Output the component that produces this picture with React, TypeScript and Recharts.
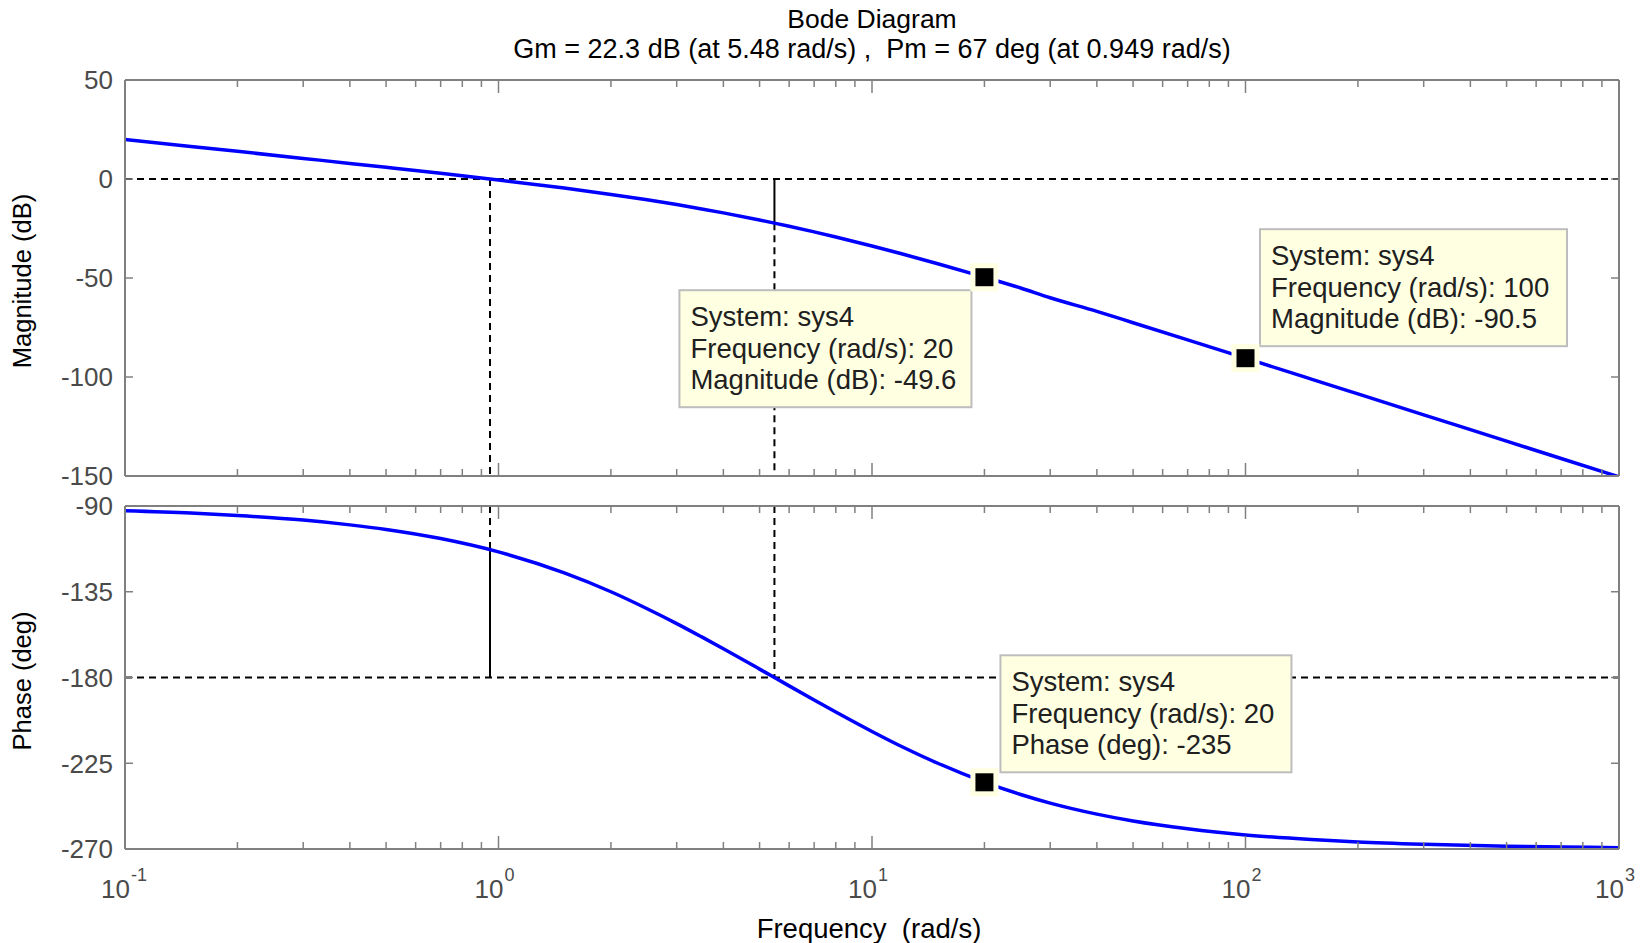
import React from 'react';
import { LineChart, Line, XAxis, YAxis, ReferenceLine, ReferenceDot } from 'recharts';

// frequency grid (rad/s) and the values
const freq = [0.1, 0.15, 0.2, 0.3, 0.4, 0.5, 0.7, 1, 1.5, 2, 2.5, 3, 3.5, 4, 5, 5.48, 6, 7, 8, 10, 12, 15, 20, 25, 30, 40, 50, 70, 100, 150, 200, 300, 500, 700, 1000];
const magnitudeDb = [19.99, 16.47, 13.96, 10.41, 7.88, 5.89, 2.85, -0.5, -4.59, -7.79, -10.51, -12.93, -15.11, -17.12, -20.72, -22.29, -23.89, -26.72, -29.3, -33.84, -37.75, -42.79, -49.58, -55.04, -59.99, -66.86, -72.58, -81.26, -90.5, -101.04, -108.53, -119.09, -132.4, -141.16, -150.46];
const phaseDeg = [-92.5, -93.7, -95.0, -97.4, -99.9, -102.3, -107.1, -114.1, -125.1, -135.0, -143.9, -151.7, -158.7, -164.9, -175.6, -180.0, -184.4, -191.8, -198.1, -208.3, -216.2, -225.0, -234.9, -241.4, -245.9, -251.7, -255.3, -259.4, -262.6, -265.0, -266.3, -267.5, -268.5, -268.9, -269.3];

const decades = [0.1, 1, 10, 100, 1000];
const decadeExp = ['-1', '0', '1', '2', '3'];
const minorSteps = [2, 3, 4, 5, 6, 7, 8, 9];
const magTicks = [50, 0, -50, -100, -150];
const phaseTicks = [-90, -135, -180, -225, -270];

// stability margins
const gmFreq = 5.48;
const gmDb = -22.3;
const pmFreq = 0.949;
const pmPhase = -113;

// data tips
const tipFreq = [20, 100, 20];
const tipValue = [-49.6, -90.5, -235];
const tipLabel = ['Magnitude (dB)', 'Magnitude (dB)', 'Phase (deg)'];

const rows = freq.map((w, i) => ({ w, mag: magnitudeDb[i], phase: phaseDeg[i] }));
const xTicks = decades.flatMap((d, i) => (i < decades.length - 1 ? [d, ...minorSteps.map((m) => d * m)] : [d]));

const AXIS = '#808080';
const TICK_TXT = '#4a4a4a';
const FONT = '"Liberation Sans", Arial, Helvetica, sans-serif';
const DASH = '7 5';

function LeftTick({ x, y, payload }: any) {
  return (
    <g>
      <line x1={x} x2={x + 8} y1={y} y2={y} stroke={AXIS} strokeWidth={1.5} />
      <text x={x - 12} y={y} dy="0.36em" textAnchor="end" fontSize={26} fontFamily={FONT} fill={TICK_TXT}>
        {payload.value}
      </text>
    </g>
  );
}

function RightTick({ x, y }: any) {
  return <line x1={x} x2={x - 8} y1={y} y2={y} stroke={AXIS} strokeWidth={1.5} />;
}

function makeXTick(side: 'top' | 'bottom', labels: boolean) {
  return (props: any) => {
    const { x, y, payload } = props;
    const i = decades.indexOf(payload.value);
    const len = i >= 0 ? 13 : 7;
    const dir = side === 'bottom' ? -1 : 1;
    return (
      <g>
        <line x1={x} x2={x} y1={y} y2={y + dir * len} stroke={AXIS} strokeWidth={1.5} />
        {labels && i >= 0 && (
          <g fontFamily={FONT} fill={TICK_TXT}>
            <text x={x + 5} y={y + 49} textAnchor="end" fontSize={26}>10</text>
            <text x={x + 6} y={y + 32} textAnchor="start" fontSize={18}>{decadeExp[i]}</text>
          </g>
        )}
      </g>
    );
  };
}

const placements = [
  { side: 'left', dx: 13, vert: 'below', dy: 13, width: 292 },
  { side: 'right', dx: 14.5, vert: 'above', dy: 12, width: 307 },
  { side: 'right', dx: 16, vert: 'above', dy: 10, width: 291 },
];

function DataTip({ cx, cy, idx }: any) {
  const p = placements[idx];
  const h = 117;
  const bx = p.side === 'left' ? cx - p.dx - p.width : cx + p.dx;
  const by = p.vert === 'below' ? cy + p.dy : cy - p.dy - h;
  const lines = ['System: sys4', `Frequency (rad/s): ${tipFreq[idx]}`, `${tipLabel[idx]}: ${tipValue[idx]}`];
  return (
    <g>
      <rect x={bx} y={by} width={p.width} height={h} fill="#ffffe1" stroke="#bdbdbd" strokeWidth={2} />
      {lines.map((t, k) => (
        <text key={k} x={bx + 11} y={by + 26 + k * 31.5} dy="0.36em" fontSize={27.5} fontFamily={FONT} fill="#202020">
          {t}
        </text>
      ))}
      <rect x={cx - 14} y={cy - 14} width={28} height={28} fill="#ffffe1" />
      <rect x={cx - 9} y={cy - 9} width={18} height={18} fill="#000" />
    </g>
  );
}

const xAxisCommon = {
  type: 'number' as const,
  dataKey: 'w',
  scale: 'log' as const,
  domain: [0.1, 1000],
  ticks: xTicks,
  allowDataOverflow: true,
  interval: 0 as const,
  height: 1,
  tickSize: 0,
  tickMargin: 0,
  tickLine: false,
  axisLine: { stroke: AXIS, strokeWidth: 2 },
};

// margins already account for the 1px top/bottom x axes and the 1px right y axis
function Panel({ top, height, margin, dataKey, yTicks, domain, showXLabels, children }: any) {
  return (
    <div style={{ position: 'absolute', left: 0, top, width: 1640, height }}>
      <LineChart width={1640} height={height} data={rows} margin={margin}>
        <XAxis {...xAxisCommon} tick={makeXTick('bottom', showXLabels)} />
        <XAxis {...xAxisCommon} xAxisId="top" orientation="top" tick={makeXTick('top', false)} />
        <YAxis type="number" domain={domain} ticks={yTicks} allowDataOverflow width={125} tickSize={0} tickMargin={0} tickLine={false} axisLine={{ stroke: AXIS, strokeWidth: 2 }} tick={LeftTick} interval={0} />
        <YAxis yAxisId="right" orientation="right" type="number" domain={domain} ticks={yTicks} allowDataOverflow width={1} tickSize={0} tickMargin={0} tickLine={false} axisLine={{ stroke: AXIS, strokeWidth: 2 }} tick={RightTick} interval={0} />
        {children}
        <Line type="monotone" dataKey={dataKey} stroke="#0000ff" strokeWidth={3.5} dot={false} activeDot={false} isAnimationActive={false} />
      </LineChart>
    </div>
  );
}

const dashed = { stroke: '#000', strokeWidth: 2, strokeDasharray: DASH };
const solid = { stroke: '#000', strokeWidth: 2 };

export default function App() {
  const label: React.CSSProperties = { position: 'absolute', whiteSpace: 'pre', fontFamily: FONT, color: '#000', lineHeight: 1 };
  return (
    <div style={{ position: 'absolute', left: 0, top: 0, width: 1640, height: 943, background: '#fff', overflow: 'hidden' }}>
      <Panel top={0} height={500} margin={{ top: 79, right: 20, bottom: 23, left: 0 }} dataKey="mag" yTicks={magTicks} domain={[-150, 50]} showXLabels={false}>
        <ReferenceLine y={0} {...dashed} />
        <ReferenceLine segment={[{ x: pmFreq, y: 0 }, { x: pmFreq, y: -150 }]} {...dashed} />
        <ReferenceLine segment={[{ x: gmFreq, y: 0 }, { x: gmFreq, y: gmDb }]} {...solid} />
        <ReferenceLine segment={[{ x: gmFreq, y: gmDb }, { x: gmFreq, y: -150 }]} {...dashed} />
        <ReferenceDot x={tipFreq[0]} y={tipValue[0]} r={9} shape={(p: any) => <DataTip cx={p.cx} cy={p.cy} idx={0} />} />
        <ReferenceDot x={tipFreq[1]} y={tipValue[1]} r={9} shape={(p: any) => <DataTip cx={p.cx} cy={p.cy} idx={1} />} />
      </Panel>
      <Panel top={490} height={453} margin={{ top: 15, right: 20, bottom: 93, left: 0 }} dataKey="phase" yTicks={phaseTicks} domain={[-270, -90]} showXLabels>
        <ReferenceLine y={-180} {...dashed} />
        <ReferenceLine segment={[{ x: pmFreq, y: -90 }, { x: pmFreq, y: pmPhase }]} {...dashed} />
        <ReferenceLine segment={[{ x: pmFreq, y: pmPhase }, { x: pmFreq, y: -180 }]} {...solid} />
        <ReferenceLine segment={[{ x: gmFreq, y: -90 }, { x: gmFreq, y: -180 }]} {...dashed} />
        <ReferenceDot x={tipFreq[2]} y={tipValue[2]} r={9} shape={(p: any) => <DataTip cx={p.cx} cy={p.cy} idx={2} />} />
      </Panel>

      <div style={{ ...label, left: 872, top: 19, fontSize: 26.5, transform: 'translate(-50%, -50%)' }}>Bode Diagram</div>
      <div style={{ ...label, left: 872, top: 49, fontSize: 27, transform: 'translate(-50%, -50%)' }}>
        {'Gm = 22.3 dB (at 5.48 rad/s) ,  Pm = 67 deg (at 0.949 rad/s)'}
      </div>
      <div style={{ ...label, left: 23, top: 281, fontSize: 25.5, transform: 'translate(-50%, -50%) rotate(-90deg)' }}>Magnitude (dB)</div>
      <div style={{ ...label, left: 23, top: 681, fontSize: 25.5, transform: 'translate(-50%, -50%) rotate(-90deg)' }}>Phase (deg)</div>
      <div style={{ ...label, left: 869, top: 929, fontSize: 27.5, transform: 'translate(-50%, -50%)' }}>{'Frequency  (rad/s)'}</div>
    </div>
  );
}
